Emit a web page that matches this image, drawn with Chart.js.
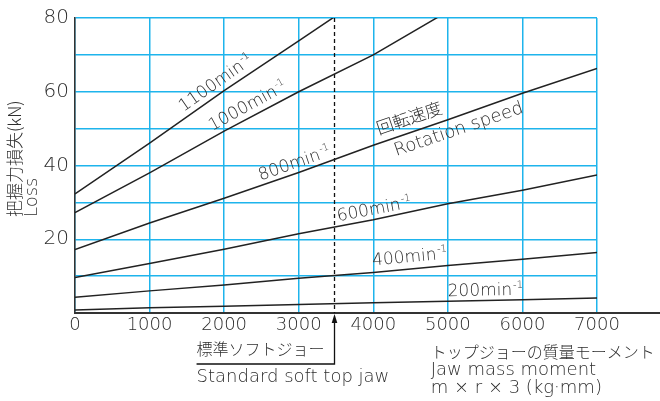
<!DOCTYPE html>
<html>
<head>
<meta charset="utf-8">
<script src="https://cdn.jsdelivr.net/npm/chart.js@4.4.1/dist/chart.umd.min.js"></script>
<style>
  html, body { margin: 0; padding: 0; background: #fff; }
  #wrap { width: 660px; height: 401px; }
</style>
</head>
<body>
<div id="wrap"><canvas id="chart" width="660" height="401"></canvas></div>
<script>
// jaw mass moment m x r x 3 (kg·mm)
const moments = [0, 1000, 2000, 3000, 4000, 5000, 6000, 7000];

// grip force loss (kN) per rotation speed
const speeds = ['1100', '1000', '800', '600', '400', '200'];
const loss1100 = [32.3, 46.1, 60.3, 73.8, 87.4];
const loss1000 = [27.2, 38.0, 49.3, 60.0, 70.0, 81.8];
const loss800 = [17.2, 24.4, 31.1, 38.1, 45.5, 52.4, 59.6, 66.3];
const loss600 = [9.6, 13.4, 17.3, 21.5, 25.3, 29.6, 33.3, 37.4];
const loss400 = [4.3, 6.0, 7.6, 9.4, 11.0, 12.9, 14.6, 16.4];
const loss200 = [0.8, 1.4, 1.8, 2.3, 2.8, 3.2, 3.6, 4.1];

const yTicks = [20, 40, 60, 80];
const standardJaw = 3480; // standard soft top jaw

const seriesValues = [loss1100, loss1000, loss800, loss600, loss400, loss200];

// where each rotation label sits along its curve (x value) and how far above it
const labelSpots = [
  { at: 1500, gap: 6 },
  { at: 1880, gap: 6 },
  { at: 2510, gap: 5 },
  { at: 3540, gap: 5 },
  { at: 4000, gap: 7 },
  { at: 5000, gap: 5 }
];

const FONT = '"DejaVu Sans", "Liberation Sans", sans-serif';
const CJK = '"Noto Sans CJK JP", sans-serif';
const TEXT = '#2e2e2e';
const GRID = '#1eb4ec';

const datasets = seriesValues.map((vals, i) => ({
  label: speeds[i] + 'min-1',
  data: vals.map((v, j) => ({ x: moments[j], y: v })),
  borderColor: '#222',
  borderWidth: 1.5,
  pointRadius: 0,
  tension: 0,
  fill: false
}));

function valueAt(vals, xv) {
  for (let j = 0; j < vals.length - 1; j++) {
    if (xv >= moments[j] && xv <= moments[j + 1]) {
      const t = (xv - moments[j]) / (moments[j + 1] - moments[j]);
      return vals[j] + t * (vals[j + 1] - vals[j]);
    }
  }
  return vals[vals.length - 1];
}

// text along a curve, anchored at x value, rotated to the curve's slope
function alongCurve(ctx, chart, vals, xv, gap, draw, below) {
  const xs = chart.scales.x, ys = chart.scales.y;
  const px = xs.getPixelForValue(xv);
  const py = ys.getPixelForValue(valueAt(vals, xv));
  const p2x = xs.getPixelForValue(xv + 200);
  const p2y = ys.getPixelForValue(valueAt(vals, xv + 200));
  const ang = Math.atan2(p2y - py, p2x - px);
  ctx.save();
  ctx.translate(px, py);
  ctx.rotate(ang);
  ctx.translate(0, below ? gap : -gap);
  draw(ctx);
  ctx.restore();
}

function speedLabel(ctx, num) {
  ctx.fillStyle = TEXT;
  ctx.textBaseline = 'alphabetic';
  ctx.textAlign = 'left';
  ctx.font = '200 17px ' + FONT;
  const main = num + 'min';
  ctx.fillText(main, 0, 0);
  const w = ctx.measureText(main).width;
  ctx.font = '200 10px ' + FONT;
  ctx.fillText('-1', w + 1, -7);
}

const annotations = {
  id: 'annotations',
  beforeDatasetsDraw(chart) {
    const { ctx, chartArea, scales } = chart;
    const x = scales.x.getPixelForValue(standardJaw);
    ctx.save();
    ctx.strokeStyle = '#111';
    ctx.lineWidth = 1.3;
    ctx.setLineDash([4, 3]);
    ctx.beginPath();
    ctx.moveTo(x, chartArea.top);
    ctx.lineTo(x, chartArea.bottom);
    ctx.stroke();
    ctx.restore();
  },
  afterDraw(chart) {
    const { ctx, chartArea, scales, width } = chart;
    const x = scales.x.getPixelForValue(standardJaw);
    const b = chartArea.bottom;
    ctx.save();
    // extend the x axis to the edge
    ctx.strokeStyle = '#333';
    ctx.lineWidth = 2;
    ctx.beginPath();
    ctx.moveTo(chartArea.right, b);
    ctx.lineTo(width, b);
    ctx.stroke();

    // arrow up to the standard jaw line
    ctx.strokeStyle = '#111';
    ctx.lineWidth = 1.3;
    ctx.beginPath();
    ctx.moveTo(x, b + 6);
    ctx.lineTo(x, b + 51);
    ctx.lineTo(scales.x.getPixelForValue(1630), b + 51);
    ctx.stroke();
    ctx.fillStyle = '#111';
    ctx.beginPath();
    ctx.moveTo(x, b + 1);
    ctx.lineTo(x - 2.8, b + 10);
    ctx.lineTo(x + 2.8, b + 10);
    ctx.closePath();
    ctx.fill();

    ctx.fillStyle = TEXT;
    ctx.textAlign = 'left';
    ctx.textBaseline = 'middle';
    const lx = scales.x.getPixelForValue(1630);
    ctx.font = '300 16px ' + CJK;
    ctx.fillText('標準ソフトジョー', lx, b + 36);
    ctx.font = '200 18px ' + FONT;
    ctx.fillText('Standard soft top jaw', lx, b + 64);

    const rx = scales.x.getPixelForValue(4770);
    ctx.font = '300 16px ' + CJK;
    ctx.fillText('トップジョーの質量モーメント', rx, b + 39);
    ctx.font = '200 18px ' + FONT;
    ctx.fillText('Jaw mass moment', rx, b + 57);
    ctx.fillText('m × r × 3 (kg·mm)', rx, b + 75);

    // y axis title
    ctx.save();
    ctx.translate(15, 217);
    ctx.rotate(-Math.PI / 2);
    ctx.font = '300 17px ' + CJK;
    ctx.fillText('把握力損失(kN)', 0, 0);
    ctx.restore();
    ctx.save();
    ctx.translate(32, 217);
    ctx.rotate(-Math.PI / 2);
    ctx.font = '200 18px ' + FONT;
    ctx.fillText('Loss', 0, 0);
    ctx.restore();

    // rotation speed labels on the curves
    seriesValues.forEach((vals, i) => {
      const s = labelSpots[i];
      alongCurve(ctx, chart, vals, s.at, s.gap, c => speedLabel(c, speeds[i]), false);
    });
    alongCurve(ctx, chart, loss800, 4110, 8, c => {
      c.fillStyle = TEXT;
      c.textBaseline = 'alphabetic';
      c.font = '300 17px ' + CJK;
      c.fillText('回転速度', 0, 0);
    }, false);
    alongCurve(ctx, chart, loss800, 4230, 4, c => {
      c.fillStyle = TEXT;
      c.textBaseline = 'top';
      c.font = '200 18px ' + FONT;
      c.fillText('Rotation speed', 0, 0);
    }, true);
    ctx.restore();
  }
};

new Chart(document.getElementById('chart'), {
  type: 'line',
  data: { datasets },
  plugins: [annotations],
  options: {
    responsive: false,
    animation: false,
    devicePixelRatio: 1,
    layout: { padding: { top: 15, right: 63, left: 0, bottom: 0 } },
    plugins: { legend: { display: false }, tooltip: { enabled: false } },
    scales: {
      x: {
        type: 'linear',
        min: 0,
        max: 7000,
        ticks: {
          stepSize: 1000,
          color: TEXT,
          padding: 2,
          maxRotation: 0,
          font: { family: FONT, size: 18, weight: 200 },
          callback: v => String(v)
        },
        grid: { color: GRID, lineWidth: 1.5, drawTicks: false },
        border: { color: '#333', width: 2 },
        afterFit: s => { s.height = 88; }
      },
      y: {
        min: 0,
        max: 80,
        ticks: {
          stepSize: 10,
          color: TEXT,
          padding: 6,
          font: { family: FONT, size: 20, weight: 200 },
          callback: v => (yTicks.includes(v) ? String(v) : '')
        },
        grid: { color: GRID, lineWidth: 1.5, drawTicks: false },
        border: { color: '#333', width: 1.5 },
        afterFit: s => { s.width = 75; }
      }
    }
  }
});
</script>
</body>
</html>
